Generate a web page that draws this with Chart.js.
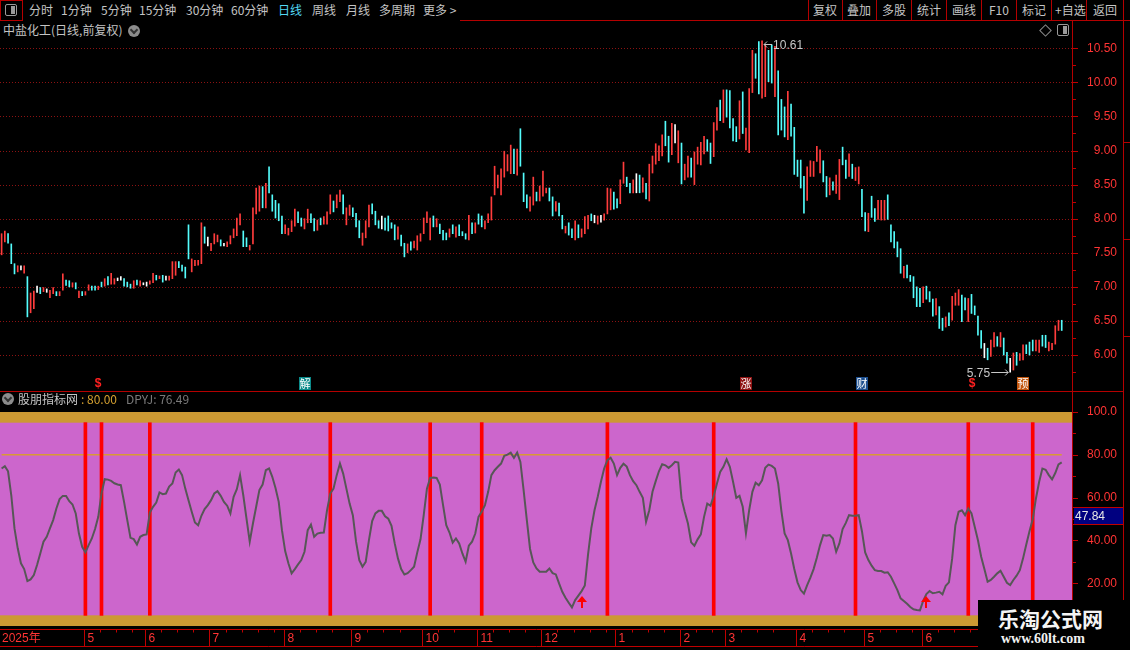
<!DOCTYPE html>
<html>
<head>
<meta charset="utf-8">
<title>中盐化工 日线</title>
<script src="https://cdn.jsdelivr.net/npm/chart.js@4.4.1/dist/chart.umd.min.js"></script>
<style>
  html, body { margin: 0; padding: 0; background: #000; }
  #screen { position: relative; width: 1130px; height: 650px; overflow: hidden; background: #000;
            font-family: "Noto Sans CJK SC", "Noto Sans", sans-serif; }
  .t { position: absolute; white-space: nowrap; font-size: 12px; line-height: 14px; color: #c4c4c4; }
  .hl { position: absolute; height: 1px; background: #b40000; }
  .vl { position: absolute; width: 1px; background: #b40000; }
  canvas { position: absolute; left: 0; }
  #kline { top: 38px; }
  #ind { top: 400px; }
  .dot { position: absolute; width: 12px; height: 12px; border-radius: 50%; background: #8c8c8c; }
  .dot:after { content: ""; position: absolute; left: 3px; top: 2px; width: 4px; height: 4px;
               border-right: 2px solid #333; border-bottom: 2px solid #333; transform: rotate(45deg); }
  .icon { position: absolute; width: 10px; height: 10px; border: 1px solid #9a9a9a; border-radius: 2px; }
  .icon:after { content: ""; position: absolute; right: 1px; top: 1px; width: 4px; height: 8px; background: #9a9a9a; }
  #mark { position: absolute; left: 978px; top: 600px; width: 152px; height: 50px; background: #000; }
</style>
</head>
<body>
<div id="screen">
  <canvas id="kline" width="1123" height="352"></canvas>
  <canvas id="ind" width="1123" height="250"></canvas>

  <!-- toolbar -->
  <div style="position:absolute;left:0;top:0;width:21px;height:19px;border:1px solid #b40000;"></div>
  <div class="icon" style="left:5px;top:4px;"></div>
  <span class="t" style="left:29px;top:3px;">分时</span>
  <span class="t" style="left:61px;top:3px;">1分钟</span>
  <span class="t" style="left:101px;top:3px;">5分钟</span>
  <span class="t" style="left:139px;top:3px;">15分钟</span>
  <span class="t" style="left:186px;top:3px;">30分钟</span>
  <span class="t" style="left:231px;top:3px;">60分钟</span>
  <span class="t" style="left:278px;top:3px;color:#52d8f4;">日线</span>
  <span class="t" style="left:312px;top:3px;">周线</span>
  <span class="t" style="left:346px;top:3px;">月线</span>
  <span class="t" style="left:379px;top:3px;">多周期</span>
  <span class="t" style="left:423px;top:3px;">更多 &gt;</span>
  <span class="t" style="left:813px;top:3px;">复权</span>
  <span class="t" style="left:847px;top:3px;">叠加</span>
  <span class="t" style="left:882px;top:3px;">多股</span>
  <span class="t" style="left:917px;top:3px;">统计</span>
  <span class="t" style="left:952px;top:3px;">画线</span>
  <span class="t" style="left:989px;top:3px;">F10</span>
  <span class="t" style="left:1022px;top:3px;">标记</span>
  <span class="t" style="left:1055px;top:3px;">+自选</span>
  <span class="t" style="left:1093px;top:3px;">返回</span>

  <!-- panel titles -->
  <span class="t" style="left:3px;top:23px;">中盐化工(日线,前复权)</span>
  <div class="dot" style="left:128px;top:25px;"></div>
  <div style="position:absolute;left:1041px;top:26px;width:7px;height:7px;border:1px solid #8c8c8c;transform:rotate(45deg);"></div>
  <div class="icon" style="left:1057px;top:24px;"></div>

  <div class="dot" style="left:2px;top:393px;"></div>
  <span class="t" style="left:18px;top:392px;">股朋指标网</span>
  <span class="t" style="left:81px;top:392px;color:#d4a030;">: 80.00</span>
  <span class="t" style="left:126px;top:392px;color:#7a7a7a;">DPYJ: 76.49</span>

  <!-- frame lines -->
  <div class="hl" style="left:460px;top:20px;width:670px;"></div>
  <div class="vl" style="left:808px;top:0;height:20px;"></div>
  <div class="vl" style="left:842px;top:0;height:20px;"></div>
  <div class="vl" style="left:876px;top:0;height:20px;"></div>
  <div class="vl" style="left:911px;top:0;height:20px;"></div>
  <div class="vl" style="left:946px;top:0;height:20px;"></div>
  <div class="vl" style="left:981px;top:0;height:20px;"></div>
  <div class="vl" style="left:1016px;top:0;height:20px;"></div>
  <div class="vl" style="left:1051px;top:0;height:20px;"></div>
  <div class="vl" style="left:1086px;top:0;height:20px;"></div>
  <div class="vl" style="left:1072px;top:20px;height:630px;"></div>
  <div class="vl" style="left:1123px;top:0;height:650px;"></div>
  <div class="hl" style="left:0;top:391px;width:1123px;"></div>
  <div class="hl" style="left:1123px;top:142px;width:7px;"></div>
  <div class="hl" style="left:1123px;top:239px;width:7px;"></div>
  <div class="hl" style="left:1123px;top:336px;width:7px;"></div>

  <div id="mark">
    <span class="t" style="left:20px;top:6px;font-size:21px;line-height:24px;font-weight:bold;color:#f4f4f4;">乐淘公式网</span>
    <span class="t" style="left:23px;top:32px;font-family:'Liberation Serif',serif;font-size:14px;font-weight:bold;color:#f0f0f0;">www.60lt.com</span>
  </div>
</div>

<script>
// daily candles, one per trading day (index 0 = first bar)
const slotCount = 333; // bars plus the empty margin at the right edge

const candleHigh = [
  7.78, 7.82, 7.78, 7.63, 7.34, 7.31, 7.31, 7.31, 7.15, 6.91,
  6.94, 7.01, 6.99, 6.99, 6.97, 6.95, 6.99, 6.93, 6.93, 7.19,
  7.10, 7.09, 7.06, 7.06, 6.94, 6.93, 6.93, 7.03, 7.01, 7.01,
  7.01, 7.07, 7.12, 7.15, 7.20, 7.12, 7.13, 7.15, 7.12, 7.07,
  7.04, 7.09, 7.10, 7.09, 7.06, 7.07, 7.09, 7.20, 7.17, 7.16,
  7.17, 7.16, 7.16, 7.37, 7.37, 7.37, 7.32, 7.29, 7.91, 7.41,
  7.39, 7.39, 7.94, 7.88, 7.73, 7.64, 7.78, 7.76, 7.69, 7.64,
  7.66, 7.75, 7.85, 8.01, 8.07, 7.82, 7.72, 7.61, 8.16, 8.45,
  8.48, 8.47, 8.52, 8.76, 8.35, 8.27, 8.22, 8.04, 7.91, 7.86,
  7.97, 8.14, 8.10, 8.01, 8.00, 8.14, 8.07, 8.00, 7.98, 8.01,
  8.03, 8.10, 8.35, 8.26, 8.35, 8.42, 8.35, 8.16, 8.20, 8.16,
  8.08, 7.97,
  7.79, 7.97, 8.20, 8.22, 8.11, 7.97, 8.04, 8.01, 8.04, 7.94,
  7.91, 7.88, 7.76, 7.64, 7.63, 7.66, 7.67, 7.75, 7.78, 8.01,
  8.10, 8.01, 8.04, 8.00, 7.92, 7.83, 7.79, 7.85, 7.91, 7.88,
  7.91, 7.81, 7.78, 8.05, 7.94, 7.94, 8.07, 8.04, 7.97, 8.07,
  8.32, 8.77, 8.64, 8.73, 8.99, 8.94, 9.08, 9.02, 9.02, 9.32,
  8.67, 8.35, 8.32, 8.61, 8.39, 8.48, 8.70, 8.45, 8.45, 8.32,
  8.25, 8.23, 8.05, 7.89, 7.94, 7.85, 7.97, 7.91, 7.85, 8.03,
  8.05, 8.07, 8.05, 8.04, 8.05, 8.07, 8.45, 8.44, 8.39, 8.29,
  8.57, 8.83, 8.61, 8.52, 8.57, 8.66, 8.64, 8.60, 8.52, 8.80,
  8.92, 9.10, 9.07, 9.23, 9.43, 9.21, 9.40, 9.38, 9.29, 9.11,
  8.80, 8.92, 8.89, 8.98, 9.05,
  9.12, 9.21, 9.16, 9.11, 9.41, 9.63, 9.74, 9.89, 9.89, 9.88,
  9.47, 9.35, 9.73, 9.86, 9.33, 9.91, 10.47, 10.42, 10.60, 10.61,
  10.55, 10.47, 10.55, 10.53, 10.17, 9.75, 9.64, 9.87, 9.68, 9.34,
  8.86, 8.86, 8.62, 8.76, 8.85, 8.84, 9.06, 9.01, 8.85, 8.62,
  8.60, 8.54, 8.64, 8.87, 9.05, 8.86, 8.95, 8.80, 8.75, 8.76,
  8.43, 8.09, 8.08, 8.33, 8.15, 8.27, 8.27, 8.27, 8.35, 7.91,
  7.81, 7.66, 7.56, 7.30, 7.32, 7.17, 7.15, 7.00, 6.98, 7.00,
  7.01, 6.93, 6.82, 6.83, 6.71, 6.54, 6.56, 6.62, 6.86, 6.91,
  6.96, 6.88, 6.84, 6.83, 6.89, 6.72, 6.57, 6.36, 6.17, 6.10,
  6.22, 6.33, 6.27, 6.33, 6.25, 6.04, 5.95, 6.03, 6.04, 6.02,
  6.15, 6.15, 6.19, 6.22, 6.22, 6.22, 6.29, 6.29, 6.19, 6.17,
  6.43, 6.51, 6.51
];

const candleLow = [
  7.47, 7.66, 7.64, 7.34, 7.19, 7.22, 7.25, 7.20, 6.56, 6.62,
  6.68, 6.92, 6.90, 6.93, 6.92, 6.84, 6.90, 6.87, 6.87, 6.95,
  7.02, 7.00, 7.00, 6.97, 6.84, 6.87, 6.88, 6.95, 6.95, 6.95,
  6.96, 7.00, 7.01, 7.03, 7.04, 7.04, 7.09, 7.10, 7.01, 7.00,
  6.98, 6.98, 7.03, 7.01, 7.03, 7.01, 7.04, 7.06, 7.10, 7.12,
  7.07, 7.10, 7.10, 7.12, 7.17, 7.28, 7.23, 7.13, 7.41, 7.22,
  7.31, 7.32, 7.34, 7.64, 7.60, 7.53, 7.63, 7.66, 7.60, 7.60,
  7.59, 7.63, 7.72, 7.75, 7.91, 7.59, 7.59, 7.54, 7.63, 8.07,
  8.11, 8.16, 8.16, 8.38, 8.11, 8.01, 7.97, 7.78, 7.78, 7.76,
  7.81, 7.89, 7.94, 7.89, 7.85, 7.94, 7.94, 7.82, 7.83, 7.91,
  7.92, 7.92, 8.07, 8.10, 8.16, 8.25, 8.07, 7.91, 8.05, 8.03,
  7.88, 7.72,
  7.61, 7.72, 7.88, 8.07, 7.91, 7.86, 7.85, 7.83, 7.82, 7.86,
  7.69, 7.70, 7.60, 7.44, 7.50, 7.54, 7.57, 7.54, 7.67, 7.78,
  7.94, 7.69, 7.88, 7.88, 7.78, 7.69, 7.69, 7.73, 7.78, 7.73,
  7.75, 7.75, 7.70, 7.69, 7.78, 7.79, 7.92, 7.88, 7.85, 7.94,
  7.98, 8.35, 8.45, 8.35, 8.61, 8.70, 8.66, 8.66, 8.64, 8.77,
  8.25, 8.16, 8.11, 8.20, 8.26, 8.26, 8.33, 8.38, 8.26, 8.04,
  8.11, 8.04, 7.85, 7.79, 7.76, 7.72, 7.69, 7.72, 7.73, 7.78,
  7.85, 7.97, 7.94, 7.92, 7.95, 7.98, 8.07, 8.13, 8.14, 8.16,
  8.22, 8.52, 8.47, 8.38, 8.38, 8.38, 8.38, 8.39, 8.29, 8.26,
  8.67, 8.80, 8.85, 8.92, 9.07, 8.83, 8.94, 9.11, 8.82, 8.51,
  8.57, 8.61, 8.61, 8.50, 8.80,
  8.79, 8.95, 8.99, 8.81, 8.91, 9.30, 9.44, 9.41, 9.49, 9.33,
  9.14, 9.13, 9.17, 9.25, 9.01, 8.97, 9.85, 10.06, 9.83, 9.77,
  9.79, 10.01, 9.99, 9.79, 9.23, 9.30, 9.20, 9.16, 9.21, 8.65,
  8.62, 8.45, 8.08, 8.27, 8.62, 8.62, 8.84, 8.67, 8.54, 8.32,
  8.35, 8.42, 8.37, 8.28, 8.79, 8.59, 8.62, 8.59, 8.56, 8.51,
  8.03, 7.82, 7.81, 8.02, 7.96, 7.99, 7.98, 7.98, 7.99, 7.66,
  7.57, 7.44, 7.20, 7.13, 7.13, 7.08, 6.84, 6.71, 6.71, 6.77,
  6.82, 6.78, 6.57, 6.59, 6.39, 6.36, 6.41, 6.43, 6.51, 6.73,
  6.73, 6.49, 6.66, 6.49, 6.61, 6.59, 6.29, 6.10, 5.96, 5.93,
  5.98, 6.12, 6.13, 6.12, 6.00, 5.88, 5.75, 5.78, 5.85, 5.92,
  5.93, 6.02, 6.00, 6.06, 6.06, 6.04, 6.13, 6.11, 6.06, 6.08,
  6.16, 6.36, 6.36
];

// + closed up, - closed down, = flat
const candleDir = [
  "++---+=+-+", "+=-+=++-++", "--+-+-++--", "+-+-++==--", "-+-+==++-+", "-=+++----+",
  "+++-=+++-=", "+++++--+++", "+-+-----++", "++--++--+-", "+++-++-++-", "--",
  "+++---=---", "-+--+-++++", "++-+---+-+", "---+-+--++", "+++++++-+-", "--++-+++--",
  "+--+--+-++", "+-=+=+++--", "++--+=-+-+", "++++--+=+-", "++-++",
  "++--++-+--", "--+-+++--+", "+--+---+--", "---+++++--", "+-++--+-++", "--+--+++--",
  "---+-----+", "---+--+-++", "+--+----=-", "++-+--=+-+", "+---++--++", "++-"
].join("");

const priceTicks = [6.0, 6.5, 7.0, 7.5, 8.0, 8.5, 9.0, 9.5, 10.0, 10.5];
const priceMin = 5.487;
const priceMax = 10.651;
const highMark = { idx: 236, text: "10.61" };
const lowMark = { idx: 313, text: "5.75" };
const eventIdx = [30, 94, 231, 267, 301, 317];
const eventTag = ["$", "解", "涨", "财", "$", "预"];

// indicator panel (股朋指标网)
const dpyj = [
  73.6, 74.7, 72.3, 61.1, 45.6, 36.3, 29.3, 26.6, 21.0, 21.8,
  23.8, 28.5, 33.9, 39.4, 41.7, 45.6, 49.5, 54.9, 59.3, 60.8,
  60.8, 58.3, 56.8, 52.6, 43.2, 37.0, 34.4, 37.8, 40.9, 45.3,
  51.0, 61.9, 68.6, 68.4, 67.8, 66.7, 66.1, 65.8, 58.0, 49.5,
  41.2, 40.6, 38.1, 41.7, 42.5, 42.8, 53.0, 55.7, 57.7, 62.4,
  61.6, 61.9, 65.2, 66.6, 71.7, 73.1, 70.5, 64.2, 58.8, 53.4,
  48.4, 47.1, 51.5, 54.6, 56.5, 58.8, 61.9, 63.0, 60.8, 58.0,
  56.2, 52.6, 60.4, 63.9, 70.5, 61.1, 50.2, 39.4, 47.9, 55.7,
  63.5, 66.1, 72.8, 73.6, 69.7, 64.5, 58.0, 44.8, 35.0, 29.3,
  24.6, 26.6, 28.8, 30.8, 34.7, 44.8, 47.4, 41.7, 43.2, 43.6,
  43.7, 54.1, 61.9, 64.2, 70.5, 75.9, 71.2, 64.2, 57.2, 51.8,
  39.4, 30.8, 27.7, 30.0, 40.1, 49.0, 52.6, 53.8, 53.8, 51.3,
  50.2, 46.8, 38.6, 31.6, 26.6, 24.1, 24.7, 26.1, 27.7, 34.4,
  40.5, 51.8, 64.2, 69.2, 69.4, 69.2, 66.1, 56.5, 47.1, 43.7,
  39.0, 40.9, 38.6, 33.9, 30.0, 37.5, 39.4, 43.2, 51.0, 53.4,
  56.5, 62.7, 70.5, 72.8, 74.4, 75.9, 79.5, 80.1, 81.0, 78.6,
  81.0, 76.7, 63.5, 49.5, 36.0, 29.7, 26.9, 25.4, 25.4, 25.4,
  26.9, 24.7, 24.1, 19.9, 16.0, 13.2, 10.9, 8.7, 12.1, 14.2,
  16.3, 18.9, 33.5, 45.6, 54.1, 60.4, 67.4, 73.6, 77.5, 78.6,
  75.9, 70.5, 73.9, 75.8, 74.5, 70.5, 67.7, 65.8, 62.7, 59.9,
  48.7, 54.1, 62.7, 67.7, 72.3, 75.6, 75.1, 73.9, 75.1, 76.7,
  76.4, 59.6, 53.4, 47.9, 39.1, 37.5, 40.5, 42.8, 51.0, 57.2,
  56.2, 60.8, 66.6, 72.0, 74.4, 77.9, 74.4, 67.4, 59.9, 60.8,
  55.7, 43.3, 54.1, 62.7, 67.0, 65.8, 68.1, 73.9, 75.4, 74.8,
  73.6, 66.6, 53.7, 43.3, 40.1, 33.9, 26.6, 20.4, 16.8, 15.1,
  19.1, 22.6, 26.6, 31.9, 37.8, 42.5, 42.2, 42.5, 40.9, 34.7,
  38.6, 45.3, 48.2, 51.8, 51.5, 51.5, 51.8, 44.3, 34.4, 30.8,
  28.2, 26.1, 25.7, 25.7, 24.9, 25.1, 23.0, 19.9, 16.8, 12.9,
  11.7, 10.4, 8.9, 7.8, 7.5, 7.3, 11.7, 14.9, 16.3, 15.3,
  15.6, 16.0, 14.8, 18.8, 20.4, 31.6, 47.1, 53.4, 54.1, 51.8,
  54.9, 52.6, 46.4, 40.1, 32.4, 26.6, 20.7, 21.5, 23.0, 24.6,
  25.8, 23.0, 20.2, 19.1, 21.5, 23.5, 26.1, 31.6, 38.1, 44.3,
  49.9, 59.6, 67.4, 73.6, 73.0, 70.5, 68.5, 71.5, 75.5, 76.49
];
const refLevel = 80;
const zoneLow = 5;
const zoneHigh = 95;
const signalIdx = [26, 31, 46, 102, 133, 149, 188, 221, 265, 300, 320];
const arrowIdx = [180, 287];
const arrowTip = 14;
const indTicks = [20, 40, 60, 80, 100];
const cursorValue = 51.6;
const cursorLabel = "47.84";

// time axis
const monthStart = [26, 45, 65, 88, 109, 131, 148, 168, 191, 211, 225, 247, 268, 286];
const monthLabel = ["5", "6", "7", "8", "9", "10", "11", "12", "1", "2", "3", "4", "5", "6"];

const slots = Array.from({ length: slotCount }, (_, i) => i);
const dirColor = { "+": "#ff3c3c", "-": "#54fcfc", "=": "#ffffff" };
const axisRed = "#ff3434";
const lineRed = "#c00000";
const axisFont = { family: "Liberation Sans", size: 12 };

function fixAxis(scale) {
  scale.width = 44;
  scale.paddingTop = 0;
  scale.paddingBottom = 0;
}

// ---------- price panel ----------
const priceGrid = {
  id: "priceGrid",
  beforeDatasetsDraw(chart) {
    const { ctx, chartArea: a, scales: { y } } = chart;
    ctx.save();
    ctx.strokeStyle = "#8c1212";
    ctx.lineWidth = 1;
    ctx.setLineDash([1, 2]);
    priceTicks.forEach(v => {
      const py = Math.round(y.getPixelForValue(v)) + 0.5;
      ctx.beginPath();
      ctx.moveTo(a.left, py);
      ctx.lineTo(a.right, py);
      ctx.stroke();
    });
    ctx.setLineDash([]);
    ctx.strokeStyle = lineRed;
    for (let k = 0; k <= 19; k++) {
      const v = 5.75 + k * 0.25;
      const py = Math.round(y.getPixelForValue(v)) + 0.5;
      ctx.beginPath();
      ctx.moveTo(a.right, py);
      ctx.lineTo(a.right + (k % 2 ? 5 : 3), py);
      ctx.stroke();
    }
    ctx.restore();
  }
};

const tagBg = { "解": "#0b8a8a", "涨": "#8e1212", "财": "#1c4e8e", "预": "#c2560e" };

const priceMarks = {
  id: "priceMarks",
  afterDatasetsDraw(chart) {
    const { ctx, chartArea: a, scales: { x, y } } = chart;
    ctx.save();
    ctx.textAlign = "center";
    ctx.textBaseline = "middle";
    eventIdx.forEach((idx, k) => {
      const cx = Math.round(x.getPixelForValue(idx));
      const cy = a.bottom - 7;
      const tag = eventTag[k];
      if (tagBg[tag]) {
        ctx.fillStyle = tagBg[tag];
        ctx.fillRect(cx - 6, cy - 6, 12, 13);
        ctx.fillStyle = "#ffffff";
        ctx.font = '11px "Noto Sans CJK SC"';
        ctx.fillText(tag, cx, cy + 1);
      } else {
        ctx.fillStyle = "#ff2020";
        ctx.font = 'bold 12px "Liberation Sans"';
        ctx.fillText(tag, cx, cy + 1);
      }
    });

    ctx.strokeStyle = "#c8c8c8";
    ctx.fillStyle = "#c8c8c8";
    ctx.lineWidth = 1;
    ctx.font = '12px "Liberation Sans"';

    // highest bar
    const hx = x.getPixelForValue(highMark.idx);
    const hy = Math.round(y.getPixelForValue(candleHigh[highMark.idx])) + 3.5;
    ctx.beginPath();
    ctx.moveTo(hx + 2, hy); ctx.lineTo(hx + 10, hy);
    ctx.moveTo(hx + 2, hy); ctx.lineTo(hx + 5, hy - 3);
    ctx.moveTo(hx + 2, hy); ctx.lineTo(hx + 5, hy + 3);
    ctx.stroke();
    ctx.textAlign = "left";
    ctx.fillText(highMark.text, hx + 11, hy + 1);

    // lowest bar
    const lx = x.getPixelForValue(lowMark.idx);
    const ly = Math.round(y.getPixelForValue(candleLow[lowMark.idx])) + 0.5;
    ctx.beginPath();
    ctx.moveTo(lx - 19, ly); ctx.lineTo(lx - 2, ly);
    ctx.moveTo(lx - 2, ly); ctx.lineTo(lx - 5, ly - 3);
    ctx.moveTo(lx - 2, ly); ctx.lineTo(lx - 5, ly + 3);
    ctx.stroke();
    ctx.textAlign = "right";
    ctx.fillText(lowMark.text, lx - 20, ly + 1);
    ctx.restore();
  }
};

new Chart(document.getElementById("kline"), {
  type: "bar",
  data: {
    labels: slots,
    datasets: [{
      data: candleHigh.map((h, i) => [candleLow[i], h]),
      backgroundColor: candleHigh.map((h, i) => dirColor[candleDir[i]]),
      barThickness: 1,
      minBarLength: 1
    }]
  },
  options: {
    responsive: false,
    animation: false,
    devicePixelRatio: 1,
    layout: { padding: { right: 6 } },
    plugins: { legend: { display: false }, tooltip: { enabled: false } },
    scales: {
      x: { display: false, offset: true },
      y: {
        position: "right",
        min: priceMin,
        max: priceMax,
        afterBuildTicks: s => { s.ticks = priceTicks.map(v => ({ value: v })); },
        afterFit: fixAxis,
        grid: { display: false },
        border: { display: false },
        ticks: { color: axisRed, font: axisFont, crossAlign: "far", padding: 0,
                 callback: v => v.toFixed(2) }
      }
    }
  },
  plugins: [priceGrid, priceMarks]
});

// ---------- indicator panel ----------
const zoneBands = {
  id: "zoneBands",
  beforeDatasetsDraw(chart) {
    const { ctx, chartArea: a, scales: { y } } = chart;
    const py = v => y.getPixelForValue(v);
    ctx.save();
    ctx.fillStyle = "#cc9933";
    ctx.fillRect(a.left, py(100), a.width, py(0) - py(100));
    ctx.fillStyle = "#cc66cc";
    ctx.fillRect(a.left, py(zoneHigh), a.width, py(zoneLow) - py(zoneHigh));
    ctx.restore();
  }
};

const indExtras = {
  id: "indExtras",
  afterDatasetsDraw(chart) {
    const { ctx, scales: { x, y } } = chart;
    ctx.save();
    // buy arrows
    ctx.fillStyle = "#ff0000";
    arrowIdx.forEach(idx => {
      const cx = Math.round(x.getPixelForValue(idx));
      const ty = Math.round(y.getPixelForValue(arrowTip));
      ctx.beginPath();
      ctx.moveTo(cx, ty);
      ctx.lineTo(cx + 5, ty + 6);
      ctx.lineTo(cx - 5, ty + 6);
      ctx.closePath();
      ctx.fill();
      ctx.fillRect(cx - 1, ty + 6, 2, 6);
    });
    ctx.restore();
  },
  afterDraw(chart) {
    const { ctx, chartArea: a, scales: { x, y } } = chart;
    ctx.save();
    ctx.strokeStyle = lineRed;
    ctx.lineWidth = 1;
    // axis ticks on the value scale
    for (let v = 10; v <= 100; v += 10) {
      const py = Math.round(y.getPixelForValue(v)) + 0.5;
      ctx.beginPath();
      ctx.moveTo(a.right, py);
      ctx.lineTo(a.right + (v % 20 ? 3 : 5), py);
      ctx.stroke();
    }
    // cursor value box
    const cy = Math.round(y.getPixelForValue(cursorValue));
    ctx.fillStyle = "#000080";
    ctx.fillRect(a.right + 1, cy - 8, 50, 16);
    ctx.beginPath();
    ctx.moveTo(a.right, cy - 8.5); ctx.lineTo(a.right + 51, cy - 8.5);
    ctx.moveTo(a.right, cy + 8.5); ctx.lineTo(a.right + 51, cy + 8.5);
    ctx.stroke();
    ctx.fillStyle = "#e6e6e6";
    ctx.font = '12px "Liberation Sans"';
    ctx.textAlign = "left";
    ctx.textBaseline = "middle";
    ctx.fillText(cursorLabel, a.right + 2, cy + 1);

    // time axis strip
    const top = a.bottom + 3.5, bot = a.bottom + 20.5;
    ctx.beginPath();
    ctx.moveTo(0, top); ctx.lineTo(a.right, top);
    ctx.moveTo(0, bot); ctx.lineTo(a.right, bot);
    ctx.stroke();
    const edge = i => Math.round((x.getPixelForValue(i - 1) + x.getPixelForValue(i)) / 2) + 0.5;
    ctx.fillStyle = axisRed;
    ctx.font = '12px "Liberation Sans", "Noto Sans CJK SC"';
    ctx.fillText("2025年", 2, (top + bot) / 2 + 1);
    monthStart.forEach((idx, k) => {
      const px = edge(idx);
      ctx.beginPath();
      ctx.moveTo(px, top); ctx.lineTo(px, bot);
      ctx.stroke();
      ctx.fillText(monthLabel[k], px + 3, (top + bot) / 2 + 1);
      const next = k + 1 < monthStart.length ? monthStart[k + 1] : dpyj.length;
      for (let w = idx + 5; w < next - 2; w += 5) {
        const wx = edge(w);
        ctx.beginPath();
        ctx.moveTo(wx, top); ctx.lineTo(wx, top + 3);
        ctx.stroke();
      }
    });
    ctx.restore();
  }
};

new Chart(document.getElementById("ind"), {
  type: "line",
  data: {
    labels: slots,
    datasets: [
      {
        label: "DPYJ",
        data: dpyj,
        borderColor: "#575757",
        borderWidth: 2,
        pointRadius: 0,
        tension: 0,
        order: 0
      },
      {
        type: "bar",
        label: "signal",
        data: slots.map(i => signalIdx.includes(i) ? [zoneLow, zoneHigh] : null),
        backgroundColor: "#ff0000",
        barThickness: 3,
        order: 1
      },
      {
        label: "level",
        data: dpyj.map(() => refLevel),
        borderColor: "#d89a34",
        borderWidth: 1.5,
        pointRadius: 0,
        order: 2
      }
    ]
  },
  options: {
    responsive: false,
    animation: false,
    devicePixelRatio: 1,
    layout: { padding: { top: 12, bottom: 24, right: 6 } },
    plugins: { legend: { display: false }, tooltip: { enabled: false } },
    scales: {
      x: { display: false, offset: true },
      y: {
        position: "right",
        min: 0,
        max: 100,
        afterBuildTicks: s => { s.ticks = indTicks.map(v => ({ value: v })); },
        afterFit: fixAxis,
        grid: { display: false },
        border: { display: false },
        ticks: { color: axisRed, font: axisFont, crossAlign: "far", padding: 0,
                 callback: v => v === 100 ? "100.0" : v.toFixed(2) }
      }
    }
  },
  plugins: [zoneBands, indExtras]
});
</script>
</body>
</html>
